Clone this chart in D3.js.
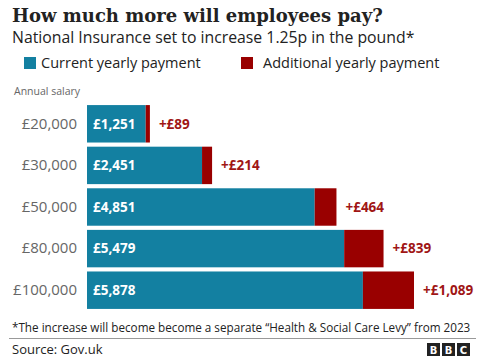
<!DOCTYPE html>
<html><head><meta charset="utf-8">
<script src="https://cdn.jsdelivr.net/npm/d3@7"></script>
<style>
html,body{margin:0;padding:0;background:#fff;}
svg{display:block;}
</style></head>
<body><svg id="c" width="492" height="364"></svg>
<script>
const salaries = ["£20,000","£30,000","£50,000","£80,000","£100,000"];
const current = [1251, 2451, 4851, 5479, 5878];
const additional = [89, 214, 464, 839, 1089];
const currentLabels = ["£1,251","£2,451","£4,851","£5,479","£5,878"];
const additionalLabels = ["+£89","+£214","+£464","+£839","+£1,089"];

const TEAL = "#1380A1", RED = "#990000";
const sans = "'Open Sans', 'Noto Sans', sans-serif";
const svg = d3.select("#c");

svg.append("text").attr("x",12).attr("y",22)
  .attr("font-family","'DejaVu Serif', serif").attr("font-weight","bold").attr("font-size",18)
  .attr("fill","#222").text("How much more will employees pay?");
svg.append("text").attr("x",12).attr("y",43)
  .attr("font-family",sans).attr("font-size",15.8).attr("fill","#222")
  .text("National Insurance set to increase 1.25p in the pound*");

// legend
const legend = [["Current yearly payment",TEAL,24],["Additional yearly payment",RED,241]];
legend.forEach(([t,c,x])=>{
  svg.append("rect").attr("x",x).attr("y",57).attr("width",12).attr("height",12).attr("fill",c);
  svg.append("text").attr("x",x+(c===TEAL?17:22)).attr("y",68)
    .attr("font-family",sans).attr("font-size",14.5).attr("fill","#222").text(t);
});

svg.append("text").attr("x",14).attr("y",95)
  .attr("font-family",sans).attr("font-size",10.5).attr("fill","#666").text("Annual salary");

const x = d3.scaleLinear().domain([0, 6967]).range([87, 414]);
const y = d3.scaleBand().domain(salaries).range([103, 311]).paddingInner(0.1).paddingOuter(0.05);

const yAxis = d3.axisLeft(y).tickSize(0).tickPadding(10);
const ga = svg.append("g").attr("transform","translate(87,0)").call(yAxis);
ga.select(".domain").remove();
ga.selectAll("text").attr("font-family",sans).attr("font-size",15).attr("fill","#666");

const g = svg.append("g");
salaries.forEach((s,i)=>{
  const yy = y(s), h = y.bandwidth();
  g.append("rect").attr("x",x(0)).attr("y",yy).attr("width",x(current[i])-x(0)).attr("height",h).attr("fill",TEAL);
  g.append("rect").attr("x",x(current[i])).attr("y",yy).attr("width",x(current[i]+additional[i])-x(current[i])).attr("height",h).attr("fill",RED);
  g.append("text").attr("x",x(0)+6).attr("y",yy+h/2).attr("dy","0.35em")
    .attr("font-family",sans).attr("font-weight","bold").attr("font-size",13.5).attr("fill","#fff").text(currentLabels[i]);
  g.append("text").attr("x",x(current[i]+additional[i])+9).attr("y",yy+h/2).attr("dy","0.35em")
    .attr("font-family",sans).attr("font-weight","bold").attr("font-size",13.5).attr("fill","#a01515").text(additionalLabels[i]);
});

svg.append("text").attr("x",12).attr("y",332)
  .attr("font-family",sans).attr("font-size",11.7).attr("fill","#222")
  .text("*The increase will become become a separate \u201cHealth & Social Care Levy\u201d from 2023");
svg.append("line").attr("x1",9).attr("x2",476).attr("y1",338.5).attr("y2",338.5).attr("stroke","#999").attr("stroke-width",1);
svg.append("text").attr("x",12).attr("y",354)
  .attr("font-family",sans).attr("font-size",13).attr("fill","#222").text("Source: Gov.uk");

["B","B","C"].forEach((l,i)=>{
  const bx = 427 + i*15;
  svg.append("rect").attr("x",bx).attr("y",343).attr("width",13).attr("height",13).attr("fill","#222");
  svg.append("text").attr("x",bx+6.5).attr("y",353.5).attr("text-anchor","middle")
    .attr("font-family","'DejaVu Sans', sans-serif").attr("font-weight","bold").attr("font-size",10).attr("fill","#fff").text(l);
});
</script></body></html>
